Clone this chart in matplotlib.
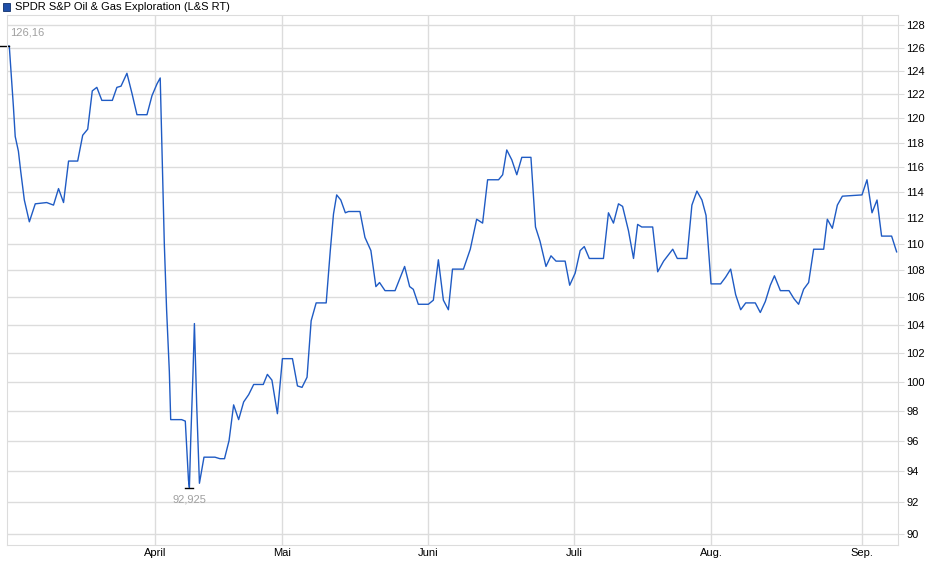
import numpy as np
import matplotlib
matplotlib.use('Agg')
import matplotlib.pyplot as plt
from matplotlib.ticker import FixedLocator, NullLocator

# day positions (chart days) and closing values
days = [1.5, 2.0, 2.4, 2.9, 3.3, 4.0, 4.5, 5.3, 6.4, 7.7, 10.2, 11.7, 12.8, 13.9, 15.0,
        17.0, 18.1, 19.2, 20.2, 21.2, 22.3, 24.6, 25.6, 26.5, 27.8, 28.9, 30.0, 32.2,
        33.3, 34.4, 35.1, 35.6, 36.0, 36.5, 37.1, 37.4, 39.8, 40.6, 41.3, 41.5, 41.8,
        42.3, 42.6, 43.1, 43.7, 44.7, 47.1, 48.2, 49.2, 50.2, 51.2, 52.3, 53.4, 54.5,
        55.6, 57.7, 58.6, 59.6, 60.8, 61.9, 64.1, 65.2, 66.2, 67.3, 68.2, 69.3, 71.5,
        72.4, 73.1, 73.8, 74.7, 75.7, 76.4, 78.9, 80.0, 81.3, 82.4, 83.2, 84.4, 86.6,
        88.7, 89.8, 90.6, 91.7, 93.9, 95.0, 96.1, 97.2, 98.3, 99.2, 101.6, 103.1,
        104.5, 105.8, 106.9, 109.3, 110.2, 111.1, 112.2, 113.3, 114.4, 116.4, 117.4,
        118.4, 119.7, 120.8, 121.9, 123.9, 124.9, 126.1, 127.2, 128.1, 129.2, 132.3,
        133.4, 134.5, 135.6, 136.5, 137.8, 138.9, 139.8, 140.7, 143.1, 144.2, 145.5,
        147.5, 148.5, 150.6, 151.7, 152.8, 153.9, 154.8, 155.9, 158.0, 159.1, 160.2,
        161.3, 162.4, 163.5, 165.6, 166.7, 167.8, 168.9, 169.8, 171.1, 173.0, 174.1,
        175.1, 176.2, 177.3, 178.4, 180.6, 181.4, 182.5, 183.6, 184.7, 189.0, 190.1,
        191.2, 192.3, 193.3, 195.5, 196.6]
values = [126.16, 126.16, 123.8, 121.0, 118.5, 117.3, 115.7, 113.4, 111.7, 113.1, 113.2,
          113.0, 114.3, 113.2, 116.5, 116.5, 118.6, 119.1, 122.3, 122.6, 121.5, 121.5,
          122.6, 122.7, 123.8, 122.1, 120.3, 120.3, 121.9, 122.9, 123.4, 115.9, 110.0,
          105.1, 100.7, 97.4, 97.4, 97.3, 93.4, 92.925, 96.1, 100.7, 104.1, 98.4, 93.2,
          94.9, 94.9, 94.8, 94.8, 96.0, 98.4, 97.4, 98.6, 99.1, 99.8, 99.8, 100.5, 100.1,
          97.8, 101.6, 101.6, 99.7, 99.6, 100.3, 104.3, 105.6, 105.6, 109.5, 112.3, 113.8,
          113.4, 112.4, 112.5, 112.5, 110.5, 109.5, 106.8, 107.1, 106.5, 106.5, 108.3,
          106.8, 106.6, 105.5, 105.5, 105.8, 108.8, 105.8, 105.1, 108.1, 108.1, 109.6,
          111.9, 111.6, 115.0, 115.0, 115.4, 117.4, 116.6, 115.4, 116.8, 116.8, 111.3,
          110.2, 108.3, 109.1, 108.7, 108.7, 106.9, 107.8, 109.5, 109.8, 108.9, 108.9,
          112.4, 111.6, 113.1, 112.9, 111.0, 108.9, 111.5, 111.3, 111.3, 107.9, 108.7,
          109.6, 108.9, 108.9, 113.0, 114.1, 113.4, 112.2, 107.0, 107.0, 107.5, 108.1,
          106.2, 105.1, 105.6, 105.6, 104.9, 105.7, 106.9, 107.6, 106.5, 106.5, 105.9,
          105.5, 106.6, 107.1, 109.6, 109.6, 111.9, 111.2, 113.0, 113.7, 113.8, 115.0,
          112.4, 113.4, 110.6, 110.6, 109.4]

month_pos = [34.0, 61.8, 93.9, 125.9, 155.9, 189.0]
month_labels = ['April', 'Mai', 'Juni', 'Juli', 'Aug.', 'Sep.']
y_ticks = list(range(90, 129, 2))

grid_col = '#dcdcdc'
line_col = '#1f5bc4'

fig = plt.figure(figsize=(9.4, 5.79), dpi=100)
ax = fig.add_axes([7/940, 1-545/579, 891/940, 530/579])

ax.plot(days, values, color=line_col, linewidth=1.0)

ax.set_yscale('log')
ax.set_ylim(89.3, 128.9)
ax.set_xlim(1.5, 196.9)
ax.yaxis.set_major_locator(FixedLocator(y_ticks))
ax.yaxis.set_minor_locator(NullLocator())
ax.set_yticklabels([str(v) for v in y_ticks], fontsize=8, family='Liberation Sans')
ax.yaxis.tick_right()
ax.set_xticks(month_pos)
ax.set_xticklabels(month_labels, fontsize=8, family='Liberation Sans')
ax.tick_params(length=4, color=grid_col, pad=2)
ax.tick_params(axis='x', length=0, pad=2)
ax.grid(color=grid_col, linewidth=1.0)
ax.set_axisbelow(True)
for s in ax.spines.values():
    s.set_color(grid_col)

# max / min markers
vmax = max(values)
vmin = min(values)
imin = values.index(vmin)
ax.plot([0, 2.0], [vmax, vmax], color='black', linewidth=1, clip_on=False)
ax.text(2.2, vmax * 1.006, '126,16', color='#a0a0a0', fontsize=8,
        family='Liberation Sans', va='bottom', ha='left')
ax.plot([days[imin] - 0.9, days[imin] + 0.9], [vmin, vmin], color='black', linewidth=1)
ax.text(days[imin], vmin * 0.995, '92,925', color='#a0a0a0', fontsize=8,
        family='Liberation Sans', va='top', ha='center')

# legend-like header
fig.patches.append(plt.Rectangle((3/940, 1-11/579), 7/940, 8/579, transform=fig.transFigure,
                                 facecolor='#1f4fa8', edgecolor='#10306a', linewidth=0.6))
fig.text(15/940, 1-7/579, 'SPDR S&P Oil & Gas Exploration (L&S RT)', fontsize=8,
         family='Liberation Sans', va='center', ha='left')

fig.savefig('out.png', dpi=100)
